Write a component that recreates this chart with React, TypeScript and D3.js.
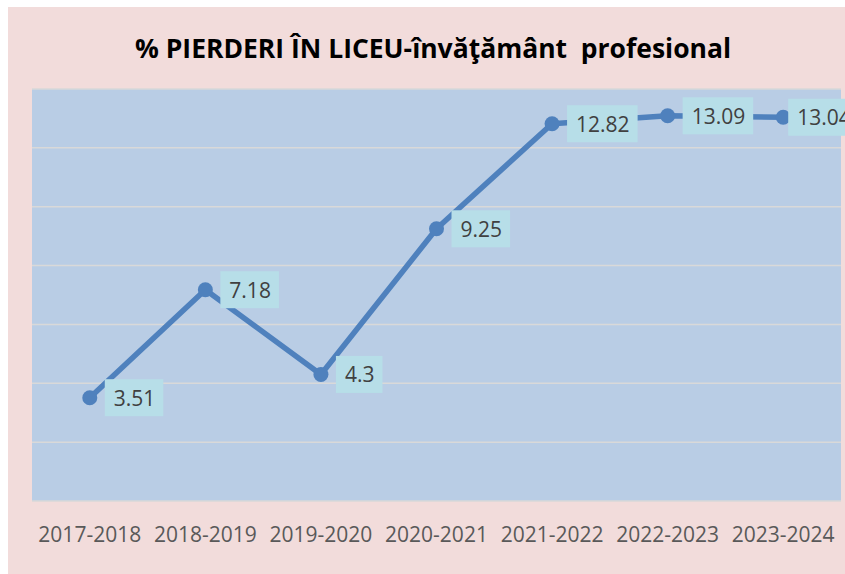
import React, { useEffect, useRef } from "react"
import * as d3 from "d3"

const categories = ["2017-2018", "2018-2019", "2019-2020", "2020-2021", "2021-2022", "2022-2023", "2023-2024"]
const values = [3.51, 7.18, 4.3, 9.25, 12.82, 13.09, 13.04]
const labels = ["3.51", "7.18", "4.3", "9.25", "12.82", "13.09", "13.04"]
const yTicks = [0, 2, 4, 6, 8, 10, 12, 14]
const title = "% PIERDERI ÎN LICEU-învăţământ  profesional"

const W = 845
const H = 574
const plot = { left: 32, right: 841, top: 89, bottom: 501 }
const font = "'Open Sans', 'Noto Sans', sans-serif"

const App = () => {
  const ref = useRef<SVGSVGElement>(null)

  useEffect(() => {
    const svg = d3.select(ref.current)
    svg.selectAll("*").remove()

    svg.append("rect")
      .attr("x", 8).attr("y", 7)
      .attr("width", W - 8).attr("height", H - 7)
      .attr("fill", "#f2dcdb")

    svg.append("text")
      .attr("x", 433).attr("y", 58)
      .attr("text-anchor", "middle")
      .attr("font-family", font)
      .attr("font-weight", "bold")
      .attr("font-size", 26)
      .attr("textLength", 596)
      .attr("lengthAdjust", "spacingAndGlyphs")
      .attr("fill", "#000")
      .style("white-space", "pre")
      .text(title)

    const x = d3.scaleBand<string>()
      .domain(categories)
      .range([plot.left, plot.right])
    const y = d3.scaleLinear()
      .domain([0, 14])
      .range([plot.bottom, plot.top])

    svg.append("rect")
      .attr("x", plot.left).attr("y", plot.top)
      .attr("width", plot.right - plot.left).attr("height", plot.bottom - plot.top)
      .attr("fill", "#b9cde5")

    svg.append("g")
      .selectAll("line")
      .data(yTicks)
      .join("line")
      .attr("x1", plot.left).attr("x2", plot.right)
      .attr("y1", d => y(d)).attr("y2", d => y(d))
      .attr("stroke", "#d9d9d9")
      .attr("stroke-width", 1.5)

    const cx = (c: string) => (x(c) ?? 0) + x.bandwidth() / 2

    const line = d3.line<number>()
      .x((_, i) => cx(categories[i]))
      .y(d => y(d))

    svg.append("path")
      .datum(values)
      .attr("d", line)
      .attr("fill", "none")
      .attr("stroke", "#4f81bd")
      .attr("stroke-width", 5.5)
      .attr("stroke-linejoin", "round")

    svg.append("g")
      .selectAll("circle")
      .data(values)
      .join("circle")
      .attr("cx", (_, i) => cx(categories[i]))
      .attr("cy", d => y(d))
      .attr("r", 7.5)
      .attr("fill", "#4f81bd")

    // data labels, right of the point; the last one is nudged in like Excel does
    const lbl = svg.append("g")
    values.forEach((v, i) => {
      const off = i === values.length - 1 ? 5 : 15
      const g = lbl.append("g")
      const t = g.append("text")
        .attr("x", cx(categories[i]) + off + 9)
        .attr("y", y(v) + 8)
        .attr("font-family", font)
        .attr("font-size", 21)
        .attr("fill", "#404040")
        .text(labels[i])
      const w = (t.node() as SVGTextElement).getComputedTextLength()
      g.insert("rect", "text")
        .attr("x", cx(categories[i]) + off)
        .attr("y", y(v) - 18.5)
        .attr("width", w + 17)
        .attr("height", 37)
        .attr("fill", "#b7dee8")
    })

    svg.append("g")
      .selectAll("text")
      .data(categories)
      .join("text")
      .attr("x", d => cx(d))
      .attr("y", 542)
      .attr("text-anchor", "middle")
      .attr("font-family", font)
      .attr("font-size", 21)
      .attr("fill", "#595959")
      .text(d => d)
  }, [])

  return (
    <svg ref={ref} width={W} height={H} style={{ position: "absolute", left: 0, top: 0 }} />
  )
}

export default App
